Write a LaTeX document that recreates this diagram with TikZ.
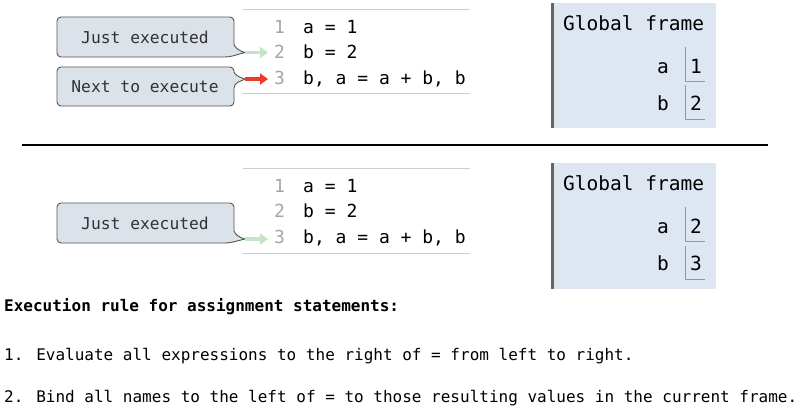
\documentclass[tikz,border=0pt]{standalone}
\usepackage{fontspec}
\usetikzlibrary{arrows.meta,calc}
\newfontfamily\codefont{DejaVu Sans Mono}
\definecolor{callfill}{RGB}{219,226,233}
\definecolor{callborder}{RGB}{85,85,85}
\definecolor{panelfill}{RGB}{221,230,241}
\definecolor{barcol}{RGB}{100,100,100}
\definecolor{rulecol}{RGB}{205,205,205}
\definecolor{boxcol}{RGB}{150,150,150}
\definecolor{numcol}{RGB}{165,165,165}
\definecolor{greenarr}{RGB}{196,228,196}
\definecolor{redarr}{RGB}{234,60,40}
\definecolor{calltxt}{RGB}{50,50,50}
\tikzset{
  callbox/.style={draw=callborder, fill=callfill, line width=0.9pt},
  calltext/.style={inner sep=0pt, text=calltxt, font=\codefont\fontsize{16.3}{18}\selectfont},
  linenum/.style={anchor=base west, inner sep=0pt, text=numcol, font=\codefont\fontsize{18}{20}\selectfont},
  codeline/.style={anchor=base west, inner sep=0pt, font=\codefont\fontsize{18}{20}\selectfont},
  coderule/.style={draw=rulecol, line width=1pt},
  frametitle/.style={anchor=base west, inner sep=0pt, font=\codefont\fontsize{19.5}{21}\selectfont},
  varname/.style={anchor=base east, inner sep=0pt, font=\codefont\fontsize{19.5}{21}\selectfont},
  varval/.style={anchor=base west, inner sep=0pt, font=\codefont\fontsize{19.5}{21}\selectfont},
  valbox/.style={draw=boxcol, line width=1pt},
  panelbar/.style={draw=barcol, line width=3pt},
  garrow/.style={draw=greenarr, line width=3.5pt, -{Triangle[length=8pt,width=11pt]}},
  rarrow/.style={draw=redarr, line width=3.5pt, -{Triangle[length=8pt,width=11pt]}},
  ruletext/.style={anchor=base west, inner sep=0pt, font=\codefont\fontsize{16}{18}\selectfont},
}
\begin{document}
\begin{tikzpicture}[x=1pt,y=-1pt]
\useasboundingbox (0,0) rectangle (800,408);

% ---------- top code panel ----------
\draw[coderule] (243,9.5) -- (470,9.5);
\draw[coderule] (243,93) -- (470,93);
\node[linenum] (n1) at (274,33) {1};
\node[linenum] (n2) at (274,58.5) {2};
\node[linenum] (n3) at (274,84) {3};
\node[codeline] (c1) at (303,33) {a = 1};
\node[codeline] (c2) at (303,58.5) {b = 2};
\node[codeline] (c3) at (303,84) {b, a = a + b, b};

% callout 1
\draw[callbox] (234,44.5) [rounded corners=4pt] -- (234,17) -- (57,17) -- (57,57) -- (229,57) [sharp corners] -- (245,52.5) .. controls (238,50.5) and (235,47.5) .. (234,44.5) -- cycle;
\node[calltext] (just1) at (145,37) {Just executed};
\coordinate (tip1) at (245,52.5);
\draw[garrow] (tip1) -- ([xshift=-6pt]n2.west |- tip1);

% callout 2
\draw[callbox] (234,72) [rounded corners=4pt] -- (234,67) -- (57,67) -- (57,106) -- (234,106) -- (234,84) [sharp corners] -- (245,79) .. controls (238,77) and (235,74.5) .. (234,72) -- cycle;
\node[calltext] (next1) at (145,86.5) {Next to execute};
\coordinate (tip2) at (245,79);
\draw[rarrow] (tip2) -- ([xshift=-6pt]n3.west |- tip2);

% top frame
\fill[panelfill] (551,3) rectangle (716,128);
\draw[panelbar] (552,3) -- (552,128);
\node[frametitle] (gf1) at (563,30) {Global frame};
\node[varname] (a1) at (669,73) {a};
\node[varname] (b1) at (669,110) {b};
\draw[valbox] (685,47) -- (685,81) -- (705,81);
\draw[valbox] (685,85) -- (685,119) -- (705,119);
\node[varval] (va1) at (690,73) {1};
\node[varval] (vb1) at (690,110) {2};

% separator
\draw[line width=2.5pt] (22,145) -- (768,145);

% ---------- bottom code panel ----------
\draw[coderule] (243,168) -- (470,168);
\draw[coderule] (243,253) -- (470,253);
\node[linenum] (m1) at (274,192) {1};
\node[linenum] (m2) at (274,217.5) {2};
\node[linenum] (m3) at (274,243) {3};
\node[codeline] (d1) at (303,192) {a = 1};
\node[codeline] (d2) at (303,217.5) {b = 2};
\node[codeline] (d3) at (303,243) {b, a = a + b, b};

% callout 3
\draw[callbox] (234,231) [rounded corners=4pt] -- (234,203) -- (57,203) -- (57,243) -- (229,243) [sharp corners] -- (245,239) .. controls (238,237) and (235,234) .. (234,231) -- cycle;
\node[calltext] (just2) at (145,223) {Just executed};
\coordinate (tip3) at (245,239);
\draw[garrow] (tip3) -- ([xshift=-6pt]m3.west |- tip3);

% bottom frame
\fill[panelfill] (551,163) rectangle (716,289);
\draw[panelbar] (552,163) -- (552,289);
\node[frametitle] (gf2) at (563,190) {Global frame};
\node[varname] (a2) at (669,233) {a};
\node[varname] (b2) at (669,270) {b};
\draw[valbox] (685,207) -- (685,241) -- (705,241);
\draw[valbox] (685,246) -- (685,279) -- (705,279);
\node[varval] (va2) at (690,233) {2};
\node[varval] (vb2) at (690,270) {3};

% ---------- rules text ----------
\node[ruletext, font=\codefont\bfseries\fontsize{16}{18}\selectfont] (r0) at (4,311) {Execution rule for assignment statements:};
\node[ruletext] (r1) at (4,360) {1. Evaluate all expressions to the right of = from left to right.};
\node[ruletext] (r2) at (4,402) {2. Bind all names to the left of = to those resulting values in the current frame.};
\end{tikzpicture}
\end{document}
